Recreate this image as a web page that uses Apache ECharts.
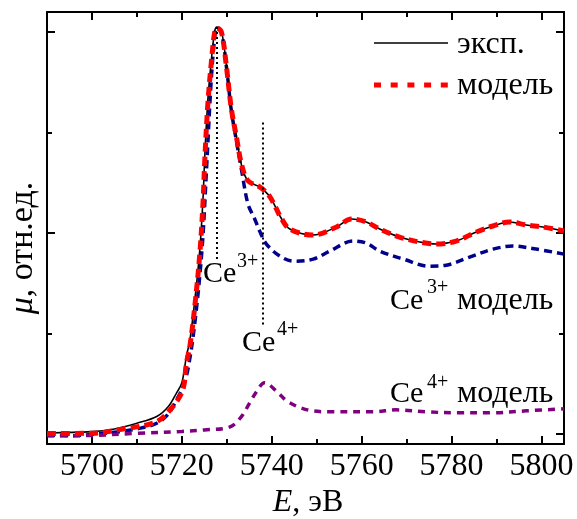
<!DOCTYPE html>
<html>
<head>
<meta charset="utf-8">
<script src="https://cdn.jsdelivr.net/npm/echarts@6/dist/echarts.min.js"></script>
<style>
html,body{margin:0;padding:0;background:#fff;}
#chart{width:577px;height:519px;}
</style>
</head>
<body>
<div id="chart"></div>
<script>
// ---- data ----
const expE  = [5690, 5700, 5705, 5710, 5714.4, 5717, 5718.8, 5720, 5721, 5721.8, 5722.9, 5724, 5724.7, 5725.1, 5725.8, 5726.6, 5727.3, 5727.8, 5728.8, 5729.9, 5731, 5732.2, 5733.3, 5734.7, 5737.3, 5738.4, 5739.6, 5740.7, 5742.2, 5744, 5749.1, 5754.4, 5757.7, 5761, 5764, 5768.4, 5772.9, 5776.6, 5781, 5785.5, 5789.2, 5792.9, 5796.6, 5800.3, 5805];
const expMu = [1, 2.3, 5, 10.7, 17.3, 27.3, 40.7, 51, 77, 94, 134, 184, 234, 277, 334, 374, 401, 405, 401, 367, 324, 294, 267, 252, 246, 242, 236, 227, 214, 204, 198, 206, 214, 211, 204, 196, 191, 189, 192, 201, 207, 211, 208, 206, 202];

const modE  = [5690, 5700, 5706.9, 5714.4, 5718, 5720.2, 5721, 5721.8, 5722.9, 5724, 5724.7, 5725.1, 5725.8, 5726.6, 5727.3, 5727.8, 5728.8, 5729.9, 5731, 5732.2, 5733.3, 5734.7, 5737.3, 5738.4, 5739.6, 5740.7, 5742.2, 5744, 5749.1, 5754.4, 5757.7, 5761, 5764, 5768.4, 5772.9, 5776.6, 5781, 5785.5, 5789.2, 5792.9, 5796.6, 5800.3, 5805];
const modMu = [0.5, 0.7, 5, 12.3, 27.3, 44, 70, 88, 128, 180, 230, 273, 330, 372, 400, 404, 400, 366, 324, 294, 268, 252, 246, 242, 236, 227, 214, 204, 198, 206, 214, 211, 204, 196, 191, 189, 192, 201, 207, 211, 208, 206, 202];

const ce3E  = [5690, 5695.8, 5700, 5706.2, 5710, 5714.4, 5717, 5718.8, 5720.3, 5721.5, 5723, 5724.5, 5725.5, 5726.5, 5727.3, 5727.8, 5728.8, 5730, 5731, 5732.2, 5733.3, 5734.7, 5736.2, 5737.3, 5738.8, 5741.8, 5744.8, 5749.2, 5752.9, 5758.1, 5761, 5764, 5769.3, 5775.1, 5778.8, 5784, 5789.2, 5793.6, 5798.8, 5805];
const ce3Mu = [-1.5, -1.7, -0.5, 2.3, 5, 10.7, 20, 34, 47, 68, 115, 185, 265, 350, 395, 405, 400, 362, 322, 290, 262, 229, 214, 202, 189, 177, 172, 174, 182, 192, 190, 182, 174, 167, 168, 176, 184, 187, 184, 179];

const ce4E  = [5690, 5697, 5710.3, 5720, 5725, 5730.7, 5733.2, 5735.1, 5736.6, 5738.4, 5741.4, 5743.6, 5747.9, 5753.1, 5762.7, 5767.6, 5774.4, 5781.8, 5789.2, 5796.6, 5805];
const ce4Mu = [-1.7, -1.7, 0.7, 2.5, 4, 7, 17, 31, 42, 51, 41, 32, 24, 22, 22, 24, 22, 21, 21, 23, 25];

const xMajorTicks = [5700, 5720, 5740, 5760, 5780, 5800];
const xMinorTicks = [5710, 5730, 5750, 5770, 5790];
const yMajorTicks = [0, 200, 400];
const yMinorTicks = [100, 300];
const markerLines = [[5727.8, 405, 173], [5738, 310, 107]];

const legendNames = ['эксп.', 'модель'];
const FONT = '"Liberation Serif", "Times New Roman", serif';

function pairs(xs, ys){ return xs.map((x,i)=>[x, ys[i]]); }

const chart = echarts.init(document.getElementById('chart'));
const XMIN = 5690, XMAX = 5805, YMIN = -10, YMAX = 420;
const SMOOTH = 0.35;

function xAx(pos, ticks, len, showLine, showLabel){
  return {
    type:'value', position: pos, min:XMIN, max:XMAX,
    axisLine:{show:showLine, onZero:false, lineStyle:{color:'#000', width:2}},
    axisTick:{show:true, inside:true, length:len, customValues:ticks, lineStyle:{color:'#000', width:2}},
    axisLabel:{show:showLabel, customValues:ticks, formatter:v=>String(v), color:'#000', fontFamily:FONT, fontSize:32, margin:7},
    splitLine:{show:false}
  };
}
function yAx(pos, ticks, len, showLine){
  return {
    type:'value', position: pos, min:YMIN, max:YMAX,
    axisLine:{show:showLine, onZero:false, lineStyle:{color:'#000', width:2}},
    axisTick:{show:true, inside:true, length:len, customValues:ticks, lineStyle:{color:'#000', width:2}},
    axisLabel:{show:false},
    splitLine:{show:false}
  };
}
function txt(x, y, s, size){
  return {type:'text', x:x, y:y, style:{text:s, font:size+'px '+FONT, fill:'#000', textAlign:'left', textVerticalAlign:'middle', align:'left', verticalAlign:'middle'}};
}

const option = {
  animation:false,
  backgroundColor:'#fff',
  grid:{left:47, right:13, top:12, bottom:75},
  xAxis:[
    xAx('bottom', xMajorTicks, 8, true, true),
    xAx('bottom', xMinorTicks, 5, false, false),
    xAx('top', xMajorTicks, 8, true, false),
    xAx('top', xMinorTicks, 5, false, false)
  ],
  yAxis:[
    yAx('left', yMajorTicks, 8, true),
    yAx('left', yMinorTicks, 5, false),
    yAx('right', yMajorTicks, 8, true),
    yAx('right', yMinorTicks, 5, false)
  ],
  series:[
    {name:'Ce3+ модель', type:'line', data:pairs(ce3E, ce3Mu), showSymbol:false, smooth:SMOOTH,
     lineStyle:{color:'#00008b', width:3.5, type:[8,5]}, z:2},
    {name:'Ce4+ модель', type:'line', data:pairs(ce4E, ce4Mu), showSymbol:false, smooth:SMOOTH,
     lineStyle:{color:'#800080', width:3.5, type:[7,6]}, z:2},
    {name:legendNames[0], type:'line', data:pairs(expE, expMu), showSymbol:false, smooth:SMOOTH,
     lineStyle:{color:'#000', width:1.6}, z:3,
     markLine:{silent:true, symbol:['none','none'], label:{show:false},
       lineStyle:{color:'#000', width:2, type:[2,3]},
       data: markerLines.map(m=>[{coord:[m[0], m[1]]},{coord:[m[0], m[2]]}])}},
    {name:legendNames[1], type:'line', data:pairs(modE, modMu), showSymbol:false, smooth:SMOOTH,
     lineStyle:{color:'#ff0000', width:5, type:[9,5]}, z:4}
  ],
  graphic:[
    // legend
    {type:'line', shape:{x1:374, y1:43, x2:448, y2:43}, style:{stroke:'#000', lineWidth:1.6}},
    {type:'line', shape:{x1:374, y1:85, x2:448, y2:85}, style:{stroke:'#ff0000', lineWidth:5, lineDash:[7,9.7]}},
    txt(457, 45, legendNames[0], 32),
    txt(457, 86, legendNames[1], 32),
    // annotations
    txt(203, 274, 'Ce', 30), txt(237, 262, '3+', 20),
    txt(242, 343, 'Ce', 30), txt(277, 330, '4+', 20),
    txt(390, 301, 'Ce', 30), txt(427, 288, '3+', 20), txt(457, 301, 'модель', 32),
    txt(390, 394, 'Ce', 30), txt(427, 383, '4+', 20), txt(457, 394, 'модель', 32),
    // axis names
    {type:'text', x:308, y:503, style:{text:'{i|E}{n|, эВ}', fill:'#000', textAlign:'center', textVerticalAlign:'middle', align:'center', verticalAlign:'middle',
      rich:{i:{fontFamily:FONT, fontSize:32, fontStyle:'italic'}, n:{fontFamily:FONT, fontSize:32}}}},
    {type:'text', x:23, y:248, rotation:Math.PI/2, style:{text:'{i|μ}{n|, отн.ед.}', fill:'#000', textAlign:'center', textVerticalAlign:'middle', align:'center', verticalAlign:'middle',
      rich:{i:{fontFamily:FONT, fontSize:34, fontStyle:'italic'}, n:{fontFamily:FONT, fontSize:34}}}}
  ]
};
chart.setOption(option);
</script>
</body>
</html>
